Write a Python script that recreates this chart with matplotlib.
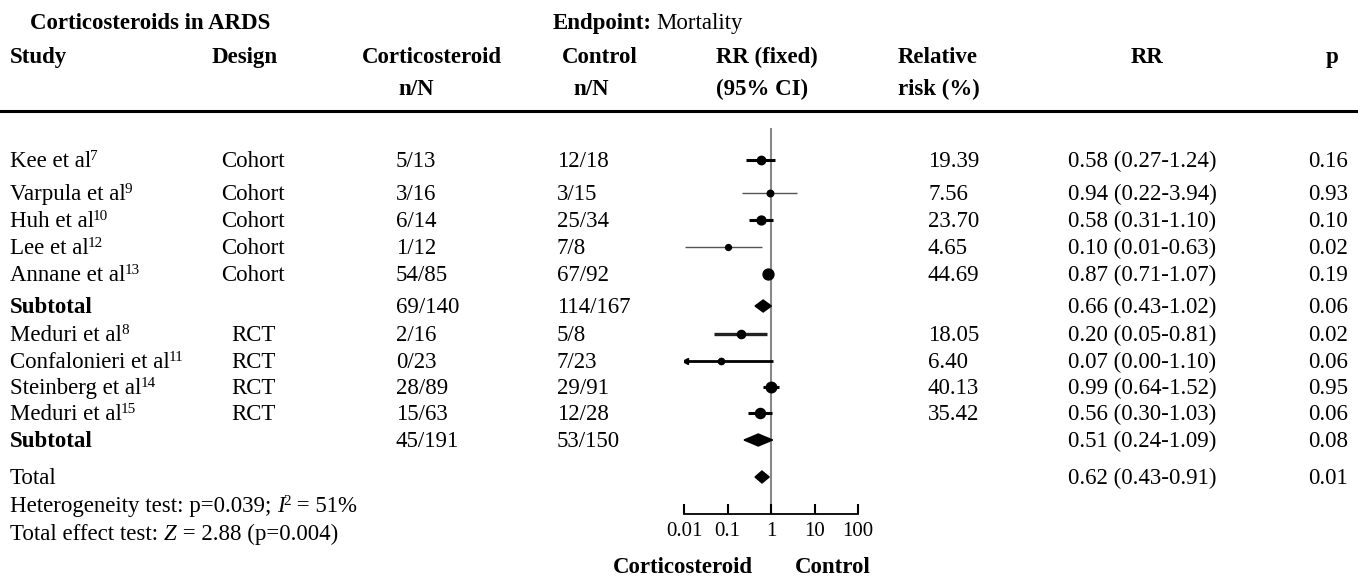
import matplotlib.pyplot as plt
import numpy as np

plt.rcParams['font.family'] = 'Liberation Serif'

# data
names = ["Kee et al", "Varpula et al", "Huh et al", "Lee et al", "Annane et al", "Subtotal",
         "Meduri et al", "Confalonieri et al", "Steinberg et al", "Meduri et al", "Subtotal", "Total"]
refs = ["7", "9", "10", "12", "13", "", "8", "11", "14", "15", "", ""]
design = ["Cohort", "Cohort", "Cohort", "Cohort", "Cohort", "", "RCT", "RCT", "RCT", "RCT", "", ""]
cort = ["5/13", "3/16", "6/14", "1/12", "54/85", "69/140", "2/16", "0/23", "28/89", "15/63", "45/191", ""]
ctrl = ["12/18", "3/15", "25/34", "7/8", "67/92", "114/167", "5/8", "7/23", "29/91", "12/28", "53/150", ""]
weight = [19.39, 7.56, 23.70, 4.65, 44.69, None, 18.05, 6.40, 40.13, 35.42, None, None]
rr = [0.58, 0.94, 0.58, 0.10, 0.87, 0.66, 0.20, 0.07, 0.99, 0.56, 0.51, 0.62]
lo = [0.27, 0.22, 0.31, 0.01, 0.71, 0.43, 0.05, 0.00, 0.64, 0.30, 0.24, 0.43]
hi = [1.24, 3.94, 1.10, 0.63, 1.07, 1.02, 0.81, 1.10, 1.52, 1.03, 1.09, 0.91]
pval = ["0.16", "0.93", "0.10", "0.02", "0.19", "0.06", "0.02", "0.06", "0.95", "0.06", "0.08", "0.01"]
kind = ["study"] * 5 + ["sub"] + ["study"] * 4 + ["sub", "total"]
ticks = [0.01, 0.1, 1, 10, 100]
tick_labels = ["0.01", "0.1", "1", "10", "100"]

# layout (pixels)
W, H = 1358, 588
row_y = [160, 193, 220, 247, 274, 306, 334, 361, 387, 413, 440, 477]
ci_lw = [2.2, 1.0, 2.2, 1.0, 2.2, 0, 2.4, 2.0, 2.2, 2.2, 0, 0]
ci_col = ["black", "#555555", "black", "#555555", "black", "black", "#222222", "black", "black", "black", "black", "black"]
fs = 16.5
off = 7  # center -> baseline

fig = plt.figure(figsize=(W / 100, H / 100), dpi=100)
bg = fig.add_axes([0, 0, 1, 1])
bg.set_xlim(0, W)
bg.set_ylim(H, 0)
bg.axis("off")
renderer = fig.canvas.get_renderer()


def txt(x, y, s, ha="left", bold=False, **kw):
    return bg.text(x, y + off, s, fontsize=fs, ha=ha, va="baseline",
                   fontweight="bold" if bold else "normal", **kw)


def runs(x, y, parts):
    # parts: (text, style, superscript?)
    for s, style, sup in parts:
        if sup:
            t = bg.text(x - 1, y + off - 7, s, fontsize=fs * 0.66, va="baseline")
        else:
            t = txt(x, y, s, fontstyle=style)
        x = t.get_window_extent(renderer).x1
    return x


# title row
txt(30, 22, "Corticosteroids in ARDS", bold=True)
txt(652, 22, "Endpoint:", ha="right", bold=True)
txt(656, 22, "Mortality")

# header
hdr1, hdr2 = 56, 88
txt(10, hdr1, "Study", bold=True)
txt(245, hdr1, "Design", ha="center", bold=True)
txt(432, hdr1, "Corticosteroid", ha="center", bold=True)
txt(416, hdr2, "n/N", ha="center", bold=True)
txt(600, hdr1, "Control", ha="center", bold=True)
txt(591, hdr2, "n/N", ha="center", bold=True)
txt(716, hdr1, "RR (fixed)", bold=True)
txt(716, hdr2, "(95% CI)", bold=True)
txt(898, hdr1, "Relative", bold=True)
txt(898, hdr2, "risk (%)", bold=True)
txt(1147, hdr1, "RR", ha="center", bold=True)
txt(1332, hdr1, "p", ha="center", bold=True)
bg.axhline(111, color="black", lw=2.2)

# table rows
for i in range(len(names)):
    y = row_y[i]
    if refs[i]:
        runs(10, y, [(names[i], "normal", False), (refs[i], "normal", True)])
    else:
        txt(10, y, names[i], bold=kind[i] == "sub")
    txt(253, y, design[i], ha="center")
    txt(396, y, cort[i])
    txt(557, y, ctrl[i])
    if weight[i] is not None:
        txt(928, y, f"{weight[i]:.2f}")
    txt(1068, y, f"{rr[i]:.2f} ({lo[i]:.2f}-{hi[i]:.2f})")
    txt(1348, y, pval[i], ha="right")

runs(10, 505, [("Heterogeneity test: p=0.039; ", "normal", False), ("I", "italic", False),
               ("2", "normal", True), (" = 51%", "normal", False)])
runs(10, 533, [("Total effect test: ", "normal", False), ("Z", "italic", False),
               (" = 2.88 (p=0.004)", "normal", False)])

# forest plot
x0, x1 = 684, 858
ytop, ybot = 111, 514
ax = fig.add_axes([x0 / W, (H - ybot) / H, (x1 - x0) / W, (ybot - ytop) / H])
ax.patch.set_alpha(0)
ax.set_xscale("log")
ax.set_xlim(0.01, 100)
ax.set_ylim(ybot, ytop)
for s in ["top", "left", "right"]:
    ax.spines[s].set_visible(False)
ax.spines["bottom"].set_linewidth(1.3)
ax.set_yticks([])
ax.set_xticks(ticks)
ax.set_xticklabels(tick_labels, fontsize=15)
ax.minorticks_off()
ax.tick_params(axis="x", direction="in", length=7, width=1.5, pad=6)

ax.vlines(1, 128, ybot, color="#888888", lw=1.5, zorder=1)

for i in range(len(names)):
    y = row_y[i]
    if kind[i] == "study":
        left = max(lo[i], 0.0105)
        ax.hlines(y, left, hi[i], color=ci_col[i], lw=ci_lw[i], zorder=2)
        if lo[i] < 0.01:
            ax.plot(left, y, marker="<", ms=4, color="black", zorder=3)
        ms = 2.5 + 0.8 * np.sqrt(weight[i])
        ax.plot(rr[i], y, marker="o", ms=ms, color="black", zorder=3)
    else:
        h = 6
        ax.fill([lo[i], rr[i], hi[i], rr[i]], [y, y - h, y, y + h], color="black", zorder=3)

txt(683, 566, "Corticosteroid", ha="center", bold=True)
txt(833, 566, "Control", ha="center", bold=True)

fig.savefig("out.png", dpi=100)
